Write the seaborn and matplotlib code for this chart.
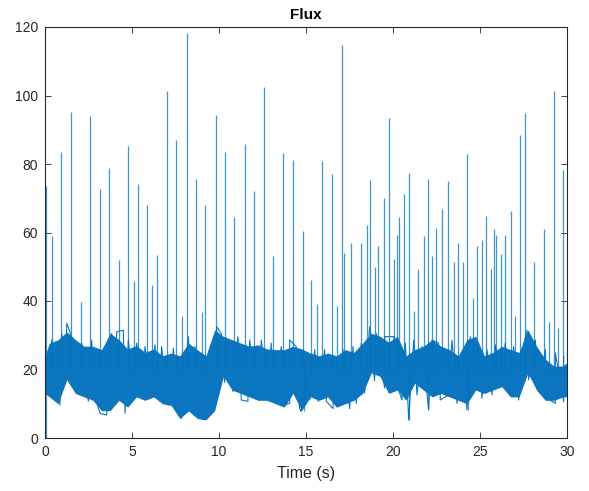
#!/usr/bin/env python3
"""Flux trace: dense baseline band with sharp spikes (MATLAB-style look)."""
import pandas as pd
import matplotlib
matplotlib.use("Agg")
import matplotlib.pyplot as plt
import seaborn as sns

# baseline band core, read per 0.5 s bin (centres 0.25 ... 29.75) plus both ends
band_t = [0.0] + [0.25 + 0.5 * i for i in range(60)] + [30.0]
band_low = [13,
            12, 10, 17, 13, 12, 11, 8, 8, 11, 9,
            12, 11, 12, 10, 9.5, 5.7, 7.9, 5.7, 5.3, 8,
            18, 14, 13, 12, 11, 11, 10, 9, 13, 8,
            12, 11, 12, 9, 10, 11, 13, 19, 18, 13,
            14, 11, 16, 14, 12, 13, 12, 11, 10, 14,
            13, 14, 15, 12, 12, 19, 14, 11, 11, 12,
            12]
band_high = [24,
             27.7, 28.7, 31, 28.7, 26.8, 26.8, 25.8, 30.6, 28.7, 26,
             27, 25, 26, 24, 24.8, 24, 27.7, 25.8, 24, 31.6,
             29.7, 28.7, 27.7, 26.8, 27.2, 26, 25.8, 25.8, 26.8, 26,
             24.8, 24, 24.8, 24, 25.8, 25, 27.7, 30.6, 29.7, 28,
             29.7, 24, 25.8, 26.8, 28.7, 26.8, 25.8, 24, 28.7, 29.7,
             24, 25, 26.8, 25.8, 25, 31.6, 26.8, 23, 21, 21,
             22]

# small excursions at the band edges (time in s, flux)
tip_low_t = [0.29, 0.86, 1.19, 1.82, 2.49, 2.87, 3.16, 3.54, 4.02, 4.6,
             5.08, 5.56, 6.13, 6.61, 7.09, 7.57, 7.85, 8.43, 8.81, 9.1,
             9.48, 9.87, 10.32, 10.8, 11.28, 11.66, 12.24, 12.81, 13.2, 13.68,
             14.06, 14.63, 14.73, 15.21, 15.69, 16.17, 16.55, 17.03, 17.51, 17.89,
             18.37, 18.94, 19.52, 20.13, 20.51, 20.9, 21.38, 22.05, 22.72, 23.2,
             23.68, 24.25, 24.63, 25.11, 25.69, 26.26, 26.74, 27.22, 27.79, 28.37,
             28.85, 29.33, 29.81]
tip_low_v = [12.1, 9.6, 17, 13.6, 10.7, 12.1, 7.2, 6.7, 11.1, 7.2,
             12.1, 13.6, 12.1, 11.1, 9.6, 8.2, 5.8, 9.6, 8.2, 5.3,
             7.2, 11.1, 16.2, 13.6, 11.1, 10.7, 11.1, 11.6, 11.1, 9.6,
             10.1, 8.6, 7.7, 11.1, 10.7, 10.7, 8.6, 10.7, 8.6, 10.1,
             13.1, 16.7, 14.6, 17, 11.1, 5.3, 12.6, 8.2, 11.1, 12.6,
             10.1, 8.2, 13.6, 11.6, 12.6, 15.1, 12.6, 11.1, 17, 14.1,
             11.6, 10.1, 10.6]
tip_high_t = [0.38, 0.96, 1.25, 1.53, 2.1, 2.68, 3.83, 4.12, 4.5, 4.79,
              5.27, 5.75, 6.32, 6.7, 7.38, 8.24, 8.62, 9.39, 9.87, 10.13,
              10.51, 11.09, 11.76, 12.43, 13.0, 13.58, 14.06, 14.44, 15.02, 15.5,
              16.07, 16.65, 17.12, 17.7, 18.18, 18.66, 19.04, 19.52, 20.04, 20.71,
              21.19, 21.66, 22.24, 22.62, 23.39, 23.96, 24.44, 24.92, 25.4, 25.88,
              26.45, 26.93, 27.51, 27.7, 28.18, 28.76, 29.33, 29.81]
tip_high_v = [28.6, 30.5, 33.5, 29.6, 27.7, 28.6, 30.5, 31, 31.5, 28.6,
              27.7, 26.7, 27.2, 26.7, 26.2, 29.6, 26.7, 24.8, 32.5, 30.5,
              28.6, 29.6, 28.6, 28.6, 27.7, 26.7, 28.6, 26.7, 24.8, 25.8,
              25.8, 23.9, 25.8, 26.7, 27.7, 32.5, 30.5, 29.6, 29.6, 27.7,
              28.6, 26.7, 28.6, 27.7, 28.6, 24.8, 29.6, 27.7, 25.8, 27.2,
              27.7, 26.7, 27.2, 31.5, 28.6, 25.8, 24.8, 23.9]

# spike peaks (time in s, flux)
spike_t = [0.05, 0.38, 0.94, 1.49, 2.05, 2.59, 3.14, 3.68, 4.23, 4.79,
           5.13, 5.33, 5.88, 6.15, 6.45, 6.99, 7.55, 7.89, 8.14, 8.68,
           9.0, 9.21, 9.81, 10.36, 10.88, 11.48, 12.01, 12.59, 13.12, 13.68,
           14.24, 14.81, 15.27, 15.61, 15.94, 16.48, 16.79, 17.07, 17.18, 17.59,
           18.14, 18.51, 18.70, 18.97, 19.12, 19.50, 19.79, 20.07, 20.21, 20.34,
           20.63, 20.90, 21.19, 21.44, 21.78, 21.99, 22.27, 22.47, 22.82, 23.14,
           23.48, 23.74, 24.0, 24.25, 24.58, 24.83, 25.10, 25.34, 25.65, 25.79,
           25.94, 26.19, 26.46, 26.76, 27.03, 27.30, 27.59, 28.12, 28.68, 28.94,
           29.25, 29.50, 29.79]
spike_v = [73.5, 59.1, 83.5, 95.3, 39.6, 94, 72.6, 78.9, 52.1, 85.3,
           45.7, 74.3, 68.1, 44.8, 53.5, 101.4, 87, 35.5, 118.2, 75.5,
           36.7, 68.1, 94.2, 83.5, 64.6, 85.7, 72.2, 102.4, 53.1, 83.3,
           81.1, 60.4, 46, 39, 80.9, 77.2, 38.4, 114.7, 54.1, 56.8,
           56.8, 62.3, 75.3, 49.8, 56, 70.1, 93.3, 52.3, 59.4, 64.6,
           71.1, 77.5, 37, 49.2, 59.1, 75.5, 53.1, 61.4, 66.9, 75,
           51.3, 56.8, 51.3, 82.8, 41, 56, 57.9, 64.8, 49.2, 61.1,
           59.4, 53.6, 59.4, 66.2, 35.5, 88.4, 95, 51.3, 61.1, 34,
           101.4, 32, 78.2]

# deep downward dips below the band
dip_t = [0.03, 14.9, 20.9, 22.03, 24.3]
dip_v = [0, 8, 5.3, 8.2, 8.2]

LINE = "#0072BD"
BAND = "#0B76BF"
AXC = "#262626"

sns.set_style("ticks")
plt.rcParams["font.family"] = ["Liberation Sans", "DejaVu Sans"]

fig = plt.figure(figsize=(5.89, 4.91), dpi=100)
ax = fig.add_axes([45 / 589, 1 - 438 / 491, 522 / 589, 411 / 491])

band = pd.DataFrame({"t": band_t, "low": band_low, "high": band_high})
ax.fill_between(band["t"], band["low"], band["high"], color=BAND, linewidth=0)

# jagged edge trace through the read tips, in time order
tips = pd.DataFrame({"t": tip_low_t + tip_high_t, "v": tip_low_v + tip_high_v})
sns.lineplot(data=tips, x="t", y="v", ax=ax, sort=True, estimator=None,
             color=BAND, linewidth=0.8)

ax.vlines(spike_t, 20, spike_v, color=LINE, linewidth=0.9, alpha=0.75)
ax.vlines(dip_t, dip_v, 20, color=LINE, linewidth=0.9, alpha=0.75)

ax.set_xlim(0, 30)
ax.set_ylim(0, 120)
ax.set_xticks(range(0, 31, 5))
ax.set_yticks(range(0, 121, 20))
ax.tick_params(direction="in", length=4, width=0.6, top=True, right=True,
               colors=AXC, labelsize=10, pad=5)
for sp in ax.spines.values():
    sp.set_visible(True)
    sp.set_color(AXC)
    sp.set_linewidth(0.8)

ax.set_xlabel("Time (s)", fontsize=11.5, color=AXC, labelpad=5)
ax.set_ylabel("")
ax.set_title("Flux", fontsize=11, fontweight="bold", color="black", pad=6)

fig.savefig("out.png", dpi=100)
